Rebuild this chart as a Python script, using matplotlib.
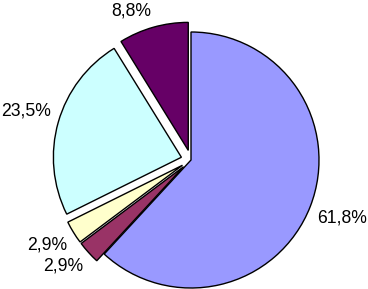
import numpy as np
import matplotlib
matplotlib.use("Agg")
import matplotlib.pyplot as plt

# Datos del grafico (porcentajes)
valores = [61.8, 2.9, 2.9, 23.5, 8.8]
colores = ["#9999FF", "#993366", "#FFFFCC", "#CCFFFF", "#660066"]
etiquetas = [f"{v:.1f}%".replace(".", ",") for v in valores]

radio = 128
# separacion en pixeles (matplotlib no la escala con el radio)
separacion = [0, 10, 10, 10, 10]

fig = plt.figure(figsize=(3.68, 2.89), dpi=100)
ax = fig.add_axes([0, 0, 1, 1])

wedges, texts = ax.pie(valores, colors=colores, explode=separacion,
                       labels=etiquetas, labeldistance=1.06,
                       startangle=90, counterclock=False,
                       center=(191, 129), radius=radio,
                       wedgeprops=dict(edgecolor="black", linewidth=1),
                       textprops=dict(fontsize=12.7, family="Liberation Sans"))

# etiquetas ancladas por la esquina mas cercana al sector (como Excel)
for w, t in zip(wedges, texts):
    ang = np.deg2rad((w.theta1 + w.theta2) / 2)
    t.set_ha("left" if np.cos(ang) > 0 else "right")
    t.set_va("bottom" if np.sin(ang) > 0 else "top")

ax.set_xlim(0, 368)
ax.set_ylim(0, 289)
ax.set_aspect("equal")
ax.axis("off")

plt.savefig("out.png", dpi=100)
plt.close()
